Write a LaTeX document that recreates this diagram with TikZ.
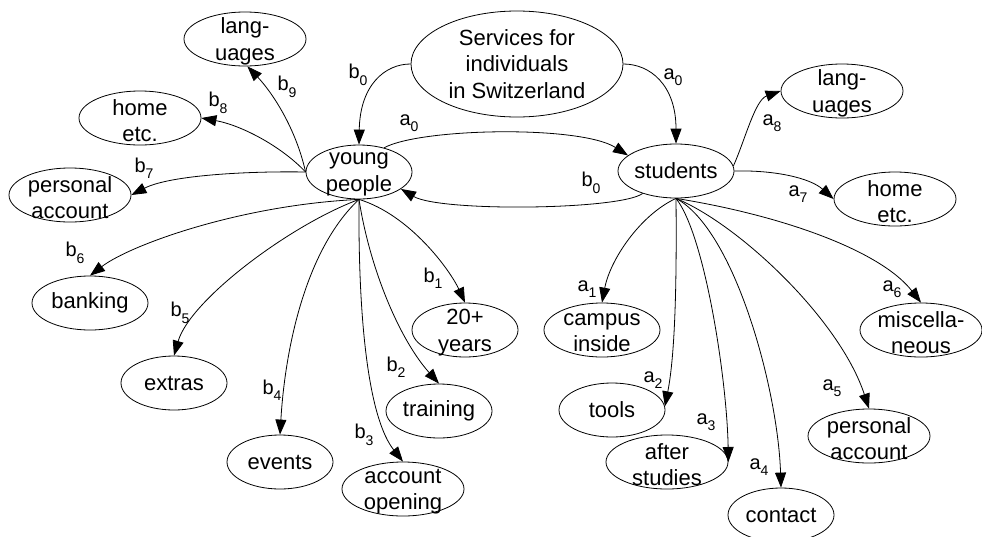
\documentclass[tikz,border=0pt]{standalone}
\usepackage{fontspec}
\setmainfont{Liberation Sans}
\usetikzlibrary{shapes.geometric,arrows.meta}
\newcommand\nfont{\fontsize{22}{26.5}\selectfont}
\newcommand\lfont{\fontsize{20}{20}\selectfont}
\newcommand\elab[2]{#1\raisebox{-6.5pt}{\fontsize{14}{14}\selectfont #2}}
\begin{document}
\begin{tikzpicture}[x=1pt,y=-1pt,
  ell/.style={ellipse,draw,line width=0.8pt,inner sep=0pt,minimum height=54pt},
  nt/.style={font=\nfont,align=center,inner sep=0pt},
  txt/.style={label={[nt]center:#1}},
  txtb/.style={label={[nt,yshift=-2.5pt]center:#1}},
  el/.style={font=\lfont,inner sep=0pt},
  arr/.style={line width=0.8pt,-{Triangle[length=15pt,width=11pt]}},
  wa/.style={minimum width=106pt},
  wb/.style={minimum width=116pt},
  wc/.style={minimum width=122pt}]
\useasboundingbox (0,0) rectangle (982,536);
\fill[white] (0,0) rectangle (982,536);
% nodes
\node[ell,minimum width=212pt,minimum height=106pt,txt={Services for\\individuals\\in Switzerland}] (serv) at (517,64) {};
\node[ell,wa,txtb={young\\people}] (young) at (359,172) {};
\node[ell,wb,txt={students}] (stud) at (676,171) {};
% young people children
\node[ell,wc,txtb={lang-\\uages}] (langL) at (245,39) {};
\node[ell,wc,txtb={home\\etc.}] (homeL) at (140,118) {};
\node[ell,wc,txtb={personal\\account}] (persL) at (70,195) {};
\node[ell,wb,txt={banking}] (bank) at (90,303) {};
\node[ell,wa,txt={extras}] (extras) at (174,383) {};
\node[ell,wa,txt={events}] (events) at (280,462) {};
\node[ell,wc,txtb={account\\opening}] (accop) at (403,489) {};
\node[ell,wa,txt={training}] (train) at (439,411) {};
\node[ell,wa,txtb={20+\\years}] (twenty) at (465,330) {};
% students children
\node[ell,wc,txtb={lang-\\uages}] (langR) at (842,91) {};
\node[ell,wc,txtb={home\\etc.}] (homeR) at (895,199) {};
\node[ell,wb,txtb={campus\\inside}] (campus) at (602,330) {};
\node[ell,wc,txtb={miscella-\\neous}] (misc) at (921,330) {};
\node[ell,wa,txt={tools}] (tools) at (612,410) {};
\node[ell,wc,txtb={after\\studies}] (after) at (667,462) {};
\node[ell,wa,txt={contact}] (contact) at (781,515) {};
\node[ell,wc,txtb={personal\\account}] (persR) at (869,436) {};
% edges
\draw[arr] (serv.west) .. controls (385,64) and (360,85) .. (young.north);
\draw[arr] (serv.east) .. controls (650,64) and (676,85) .. (stud.north);
\draw[arr] (young.44) .. controls (420,128) and (580,125) .. (stud.162);
\draw[arr] (stud.214) .. controls (620,210) and (440,212) .. (young.-22);
\draw[arr] (young.west) .. controls (295,125) and (270,90) .. (langL.-85);
\draw[arr] (young.west) .. controls (280,145) and (240,125) .. (homeL.east);
\draw[arr] (young.west) .. controls (250,171) and (170,175) .. (persL.east);
\draw[arr] (young.south) .. controls (240,205) and (130,245) .. (bank.north);
\draw[arr] (young.south) .. controls (290,225) and (190,300) .. (extras.north);
\draw[arr] (young.south) .. controls (305,250) and (285,350) .. (events.north);
\draw[arr] (young.south) .. controls (358,330) and (370,420) .. (accop.north);
\draw[arr] (young.south) .. controls (370,270) and (400,340) .. (train.north);
\draw[arr] (young.south) .. controls (410,215) and (450,270) .. (twenty.north);
\draw[arr] (stud.5) .. controls (745,140) and (755,100) .. (langR.west);
\draw[arr] (stud.east) .. controls (775,170) and (810,178) .. (homeR.west);
\draw[arr] (stud.south) .. controls (640,215) and (610,260) .. (campus.north);
\draw[arr] (stud.south) .. controls (677,300) and (674,360) .. (tools.4);
\draw[arr] (stud.south) .. controls (705,235) and (727,380) .. (after.east);
\draw[arr] (stud.south) .. controls (735,230) and (778,390) .. (contact.north);
\draw[arr] (stud.south) .. controls (740,225) and (840,320) .. (persR.north);
\draw[arr] (stud.south) .. controls (780,215) and (880,250) .. (misc.north);
% edge labels
\node[el] (lb0s) at (358,75) {\elab{b}{0}};
\node[el] (la0s) at (673,77) {\elab{a}{0}};
\node[el] (la0y) at (409,123) {\elab{a}{0}};
\node[el] (lb0y) at (591,183) {\elab{b}{0}};
\node[el] (lb9) at (287,87) {\elab{b}{9}};
\node[el] (lb8) at (218,103) {\elab{b}{8}};
\node[el] (lb7) at (144,168) {\elab{b}{7}};
\node[el] (lb6) at (75,253) {\elab{b}{6}};
\node[el] (lb5) at (180,313) {\elab{b}{5}};
\node[el] (lb4) at (272,390) {\elab{b}{4}};
\node[el] (lb3) at (364,435) {\elab{b}{3}};
\node[el] (lb2) at (396,367) {\elab{b}{2}};
\node[el] (lb1) at (433,278) {\elab{b}{1}};
\node[el] (la8) at (772,123) {\elab{a}{8}};
\node[el] (la7) at (798,194) {\elab{a}{7}};
\node[el] (la1) at (587,289) {\elab{a}{1}};
\node[el] (la2) at (653,380) {\elab{a}{2}};
\node[el] (la3) at (706,422) {\elab{a}{3}};
\node[el] (la4) at (759,467) {\elab{a}{4}};
\node[el] (la5) at (832,388) {\elab{a}{5}};
\node[el] (la6) at (892,289) {\elab{a}{6}};
\end{tikzpicture}
\end{document}
